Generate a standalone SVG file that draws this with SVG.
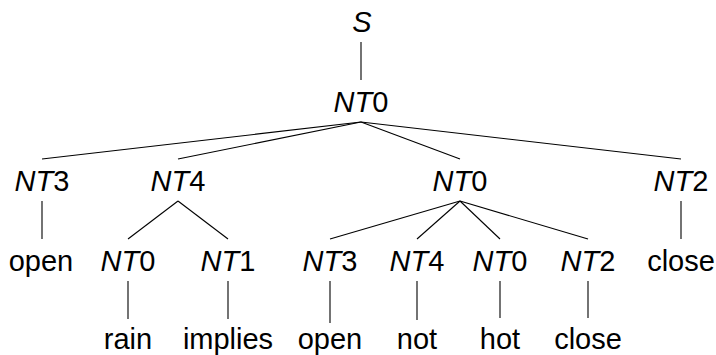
<svg xmlns="http://www.w3.org/2000/svg" width="716" height="355" viewBox="0 0 716 355">
<style>
text{font-family:"Liberation Sans",Arial,sans-serif;font-size:29px;fill:#000;text-anchor:middle}
.i{font-style:italic}
#edges line{stroke:#000;stroke-width:1.1}
</style>
<rect width="716" height="355" fill="#fff"/>
<g id="edges">
<line x1="361" y1="42" x2="361" y2="80"/>
<line x1="361" y1="122" x2="42" y2="159"/>
<line x1="361" y1="122" x2="178" y2="159"/>
<line x1="361" y1="122" x2="460" y2="159"/>
<line x1="361" y1="122" x2="681" y2="159"/>
<line x1="42" y1="201" x2="42" y2="239"/>
<line x1="178" y1="201" x2="128" y2="239"/>
<line x1="178" y1="201" x2="228" y2="239"/>
<line x1="460" y1="201" x2="330" y2="239"/>
<line x1="460" y1="201" x2="417" y2="239"/>
<line x1="460" y1="201" x2="500" y2="239"/>
<line x1="460" y1="201" x2="588" y2="239"/>
<line x1="681" y1="201" x2="681" y2="239"/>
<line x1="128" y1="281" x2="128" y2="319"/>
<line x1="228" y1="281" x2="228" y2="319"/>
<line x1="330" y1="281" x2="330" y2="323"/>
<line x1="417" y1="281" x2="417" y2="320"/>
<line x1="500" y1="281" x2="500" y2="318"/>
<line x1="588" y1="281" x2="588" y2="318"/>
</g>
<g id="n-S"><text x="362" y="32" class="i">S</text></g>
<g id="n-root"><text x="361" y="112"><tspan class="i">NT</tspan>0</text></g>
<g id="n-a"><text x="42" y="191"><tspan class="i">NT</tspan>3</text></g>
<g id="n-b"><text x="178" y="191"><tspan class="i">NT</tspan>4</text></g>
<g id="n-c"><text x="460" y="191"><tspan class="i">NT</tspan>0</text></g>
<g id="n-d"><text x="681" y="191"><tspan class="i">NT</tspan>2</text></g>
<g id="n-a1"><text x="41" y="271">open</text></g>
<g id="n-b1"><text x="128" y="271"><tspan class="i">NT</tspan>0</text></g>
<g id="n-b2"><text x="228" y="271"><tspan class="i">NT</tspan>1</text></g>
<g id="n-c1"><text x="330" y="271"><tspan class="i">NT</tspan>3</text></g>
<g id="n-c2"><text x="417" y="271"><tspan class="i">NT</tspan>4</text></g>
<g id="n-c3"><text x="500" y="271"><tspan class="i">NT</tspan>0</text></g>
<g id="n-c4"><text x="588" y="271"><tspan class="i">NT</tspan>2</text></g>
<g id="n-d1"><text x="681" y="271">close</text></g>
<g id="n-b1a"><text x="128" y="349">rain</text></g>
<g id="n-b2a"><text x="228" y="349">implies</text></g>
<g id="n-c1a"><text x="330" y="349">open</text></g>
<g id="n-c2a"><text x="417" y="349">not</text></g>
<g id="n-c3a"><text x="500" y="349">hot</text></g>
<g id="n-c4a"><text x="588" y="349">close</text></g>
</svg>
